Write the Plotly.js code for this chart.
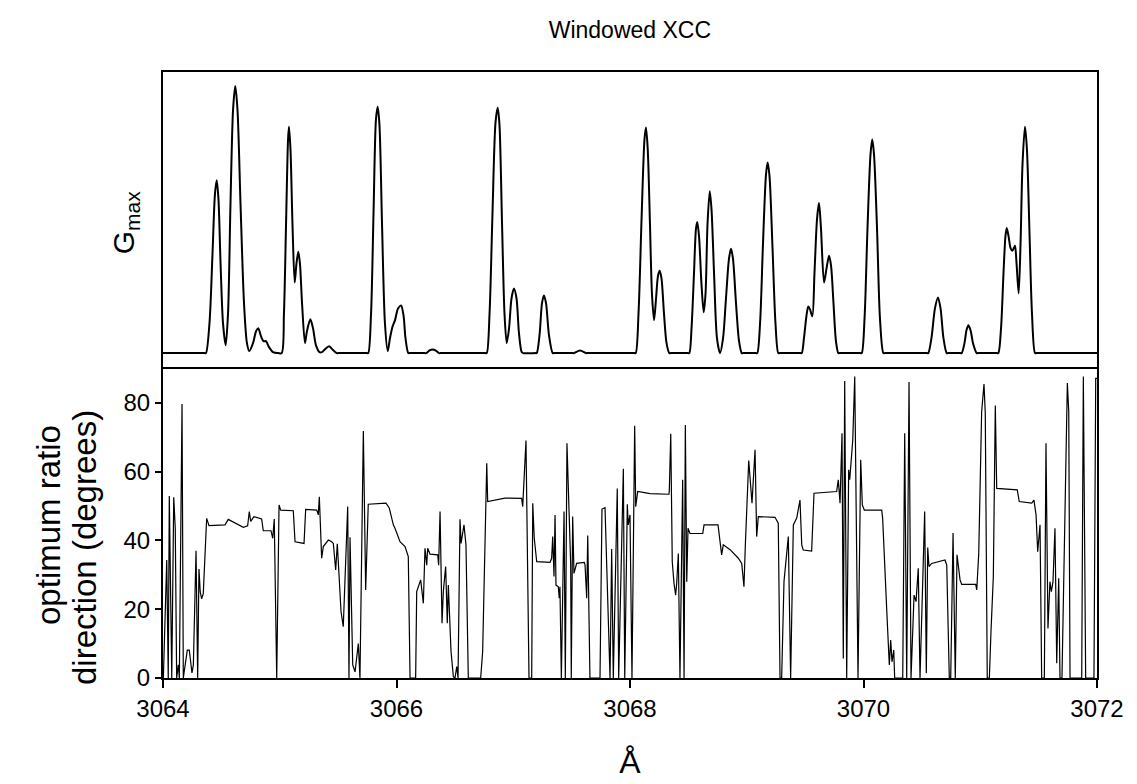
<!DOCTYPE html>
<html>
<head>
<meta charset="utf-8">
<script src="https://cdn.plot.ly/plotly-3.0.1.min.js"></script>
<style>html,body{margin:0;padding:0;background:#fff;}#chart{width:1137px;height:784px;}</style>
</head>
<body>
<div id="chart"></div>
<script>
// ---- data ----
const chartTitle = 'Windowed XCC';
const xTickVals = [3064, 3066, 3068, 3070, 3072];
const yTickVals = [0, 20, 40, 60, 80];

// Gmax (top panel), wavelength in Å and arbitrary amplitude
const gmaxX = [3064.000, 3064.356, 3064.368, 3064.398, 3064.424, 3064.445, 3064.460, 3064.475, 3064.493, 3064.514, 3064.537,
3064.557, 3064.578, 3064.600, 3064.619, 3064.638, 3064.664, 3064.694, 3064.719, 3064.739,
3064.771, 3064.797, 3064.816, 3064.839, 3064.861, 3064.882, 3064.908, 3064.942, 3064.988,
3065.017, 3065.036, 3065.054, 3065.071, 3065.079, 3065.092, 3065.109, 3065.128,
3065.143, 3065.159, 3065.173, 3065.191, 3065.216,
3065.233, 3065.262, 3065.285, 3065.310, 3065.340,
3065.362, 3065.388, 3065.422, 3065.448, 3065.488, 3065.500,
3065.746, 3065.758, 3065.782, 3065.803, 3065.824, 3065.839, 3065.854, 3065.876, 3065.901, 3065.925,
3065.944, 3065.967, 3065.987, 3066.013, 3066.039, 3066.060, 3066.077, 3066.101, 3066.113,
3066.241, 3066.253, 3066.287, 3066.310, 3066.330, 3066.364, 3066.376,
3066.761, 3066.773, 3066.797, 3066.822, 3066.848, 3066.867, 3066.882, 3066.904, 3066.925, 3066.944,
3066.964, 3066.985, 3067.006, 3067.028, 3067.049, 3067.072, 3067.084,
3067.189, 3067.201, 3067.225, 3067.246, 3067.263, 3067.281, 3067.306, 3067.338, 3067.350,
3067.508, 3067.520, 3067.572, 3067.623, 3067.635,
3068.037, 3068.049, 3068.073, 3068.099, 3068.124, 3068.137, 3068.152, 3068.171, 3068.188, 3068.206,
3068.223, 3068.240, 3068.254, 3068.270, 3068.291, 3068.313, 3068.337, 3068.349,
3068.496, 3068.508, 3068.527, 3068.548, 3068.565, 3068.576, 3068.591, 3068.612, 3068.631,
3068.647, 3068.664, 3068.683, 3068.698, 3068.720, 3068.745, 3068.771,
3068.797, 3068.822, 3068.848, 3068.865, 3068.882, 3068.908, 3068.934, 3068.957, 3068.969,
3069.078, 3069.090, 3069.114, 3069.139, 3069.165, 3069.179, 3069.195, 3069.221, 3069.246, 3069.270, 3069.282,
3069.459, 3069.471, 3069.490, 3069.512, 3069.527, 3069.542, 3069.562, 3069.580, 3069.602, 3069.619, 3069.636, 3069.662, 3069.683, 3069.705, 3069.722, 3069.743, 3069.764, 3069.784, 3069.796,
3069.973, 3069.985, 3070.009, 3070.034, 3070.060, 3070.075, 3070.090, 3070.116, 3070.141, 3070.170, 3070.182,
3070.543, 3070.555, 3070.582, 3070.612, 3070.638, 3070.660, 3070.685, 3070.713, 3070.725,
3070.829, 3070.841, 3070.865, 3070.882, 3070.898, 3070.917, 3070.938, 3070.970, 3070.982,
3071.143, 3071.155, 3071.178, 3071.199, 3071.216, 3071.227, 3071.242, 3071.259, 3071.275, 3071.289, 3071.298, 3071.311, 3071.329, 3071.345, 3071.362, 3071.383, 3071.400, 3071.422, 3071.443, 3071.469, 3071.481,
3072.000];
const gmaxY = [0, 0, 0, 30, 100, 160, 174, 155, 90, 30, 8,
40, 150, 245, 269, 245, 150, 50, 10, 2,
10, 22, 25, 17, 12, 12, 6, 1, 0,
0, 40, 130, 215, 228, 205, 130, 71,
90, 102, 90, 50, 10,
22, 34, 25, 8, 1,
1, 4, 7, 4, 0, 0,
0, 0, 40, 140, 235, 248, 230, 130, 30, 2,
15, 27, 33, 45, 48, 38, 15, 0, 0,
0, 0, 3, 3.5, 3, 0, 0,
0, 0, 40, 140, 232, 247, 230, 130, 40, 10,
25, 55, 65, 55, 20, 1, 0,
0, 0, 18, 50, 58, 50, 18, 0, 0,
0, 0, 2.5, 0, 0,
0, 0, 40, 135, 215, 227, 205, 130, 60, 33,
55, 78, 83, 75, 40, 10, 0, 0,
0, 0, 25, 80, 125, 132, 118, 70, 41,
60, 130, 163, 145, 80, 15, 0,
15, 55, 95, 105, 95, 50, 12, 0, 0,
0, 0, 30, 110, 180, 192, 178, 105, 30, 0, 0,
0, 0, 15, 38, 47, 44, 37, 80, 135, 151, 125, 71, 85, 98, 88, 50, 12, 0, 0,
0, 0, 35, 125, 200, 215, 200, 125, 35, 0, 0,
0, 0, 15, 45, 56, 45, 15, 0, 0,
0, 0, 10, 23, 28, 23, 10, 0, 0,
0, 0, 25, 80, 118, 126, 118, 106, 103, 106, 108, 90, 60, 110, 190, 228, 205, 120, 40, 0, 0,
0];

// optimum ratio direction (bottom panel), degrees
const dirX = [3064.003, 3064.032, 3064.045, 3064.054, 3064.075, 3064.092, 3064.105, 3064.117, 3064.131, 3064.140,
3064.163, 3064.174, 3064.208, 3064.225, 3064.236, 3064.248, 3064.260, 3064.283, 3064.297, 3064.308,
3064.319, 3064.331, 3064.345, 3064.374, 3064.394, 3064.531, 3064.559, 3064.688, 3064.725, 3064.739,
3064.751, 3064.779, 3064.845, 3064.859, 3064.925, 3064.940, 3064.953, 3064.974, 3064.994, 3065.008,
3065.116, 3065.131, 3065.208, 3065.222, 3065.317, 3065.330, 3065.339, 3065.359, 3065.373, 3065.416,
3065.445, 3065.459, 3065.479, 3065.493, 3065.525, 3065.544, 3065.582, 3065.593, 3065.602, 3065.625,
3065.645, 3065.673, 3065.687, 3065.716, 3065.736, 3065.758, 3065.910, 3065.938, 3065.973, 3065.987,
3066.030, 3066.073, 3066.101, 3066.116, 3066.164, 3066.173, 3066.207, 3066.230, 3066.244, 3066.259,
3066.267, 3066.287, 3066.353, 3066.361, 3066.373, 3066.390, 3066.401, 3066.421, 3066.435, 3066.444,
3066.467, 3066.487, 3066.501, 3066.516, 3066.527, 3066.544, 3066.553, 3066.578, 3066.595, 3066.615,
3066.721, 3066.738, 3066.773, 3066.781, 3066.929, 3067.072, 3067.081, 3067.092, 3067.109, 3067.135,
3067.158, 3067.167, 3067.180, 3067.201, 3067.315, 3067.329, 3067.338, 3067.349, 3067.358, 3067.366,
3067.386, 3067.394, 3067.400, 3067.412, 3067.435, 3067.446, 3067.460, 3067.492, 3067.497, 3067.509,
3067.520, 3067.543, 3067.609, 3067.615, 3067.629, 3067.638, 3067.657, 3067.743, 3067.760, 3067.786,
3067.829, 3067.843, 3067.857, 3067.891, 3067.903, 3067.943, 3067.955, 3067.977, 3067.985, 3068.000,
3068.017, 3068.040, 3068.049, 3068.066, 3068.171, 3068.334, 3068.337, 3068.349, 3068.362, 3068.377,
3068.391, 3068.400, 3068.414, 3068.428, 3068.451, 3068.463, 3068.474, 3068.486, 3068.497, 3068.514,
3068.623, 3068.634, 3068.754, 3068.785, 3068.799, 3068.857, 3068.928, 3068.957, 3068.976, 3068.988,
3069.017, 3069.045, 3069.071, 3069.085, 3069.099, 3069.242, 3069.270, 3069.285, 3069.299, 3069.319,
3069.356, 3069.376, 3069.399, 3069.428, 3069.456, 3069.471, 3069.484, 3069.556, 3069.576, 3069.770,
3069.784, 3069.799, 3069.816, 3069.827, 3069.839, 3069.856, 3069.873, 3069.882, 3069.908, 3069.925,
3069.953, 3069.976, 3069.990, 3070.007, 3070.156, 3070.164, 3070.193, 3070.199, 3070.221, 3070.233,
3070.244, 3070.259, 3070.267, 3070.336, 3070.353, 3070.370, 3070.390, 3070.407, 3070.433, 3070.450,
3070.469, 3070.484, 3070.524, 3070.538, 3070.550, 3070.561, 3070.584, 3070.698, 3070.713, 3070.735,
3070.747, 3070.767, 3070.786, 3070.801, 3070.827, 3070.841, 3070.961, 3070.970, 3070.987, 3071.012,
3071.032, 3071.043, 3071.060, 3071.078, 3071.092, 3071.112, 3071.129, 3071.141, 3071.317, 3071.334,
3071.441, 3071.460, 3071.478, 3071.492, 3071.512, 3071.526, 3071.549, 3071.563, 3071.580, 3071.597,
3071.609, 3071.623, 3071.640, 3071.655, 3071.672, 3071.683, 3071.700, 3071.746, 3071.758, 3071.769,
3071.869, 3071.883, 3071.903, 3071.974, 3071.989, 3072.000];
const dirY = [0, 34.3, 0, 52.9, 0, 52.5, 43.5, 0, 3.8, 0,
79.6, 0, 8.1, 8.1, 5, 1.5, 3.8, 37, 0, 31.7,
25, 23, 24.5, 46.4, 44.3, 44.5, 46.1, 43.8, 44.2, 48.4,
45.5, 46.9, 46.2, 42.8, 42.8, 40.6, 46.2, 0, 50.3, 48.8,
48.6, 39.6, 39.1, 49, 48.8, 47.4, 52.7, 34.8, 38.2, 40.1,
39.6, 39.1, 31.4, 39, 19.3, 14.9, 49.8, 0, 40.9, 3.8,
1.8, 10, 0, 71.8, 25.6, 50.5, 50.8, 49.4, 44.5, 43.5,
39.6, 38.2, 35.3, 0, 0, 25.1, 28.5, 21.7, 37.7, 32.8,
37.7, 36, 35.8, 32.8, 48.4, 15.9, 25.1, 32.4, 15.9, 27,
7.7, 0.4, 0, 3.3, 0, 46.1, 39.1, 44.5, 38.7, 0,
0, 7.7, 62.4, 51.3, 52.3, 52.2, 49.8, 57.1, 69, 0,
0, 50.8, 40.6, 33.8, 33.6, 34.8, 41.1, 29.5, 47.4, 27,
26.5, 23.2, 26.5, 0, 48.4, 0, 68.2, 33, 0, 46.9,
30.4, 33.3, 33.6, 32.8, 23.2, 41.4, 0, 0, 49.1, 49.5,
0, 37.5, 0, 55.1, 0, 60.8, 0, 50.5, 44.5, 47.4,
0, 73.3, 49.8, 54.2, 53.6, 53.4, 54.7, 71, 33.8, 27.5,
24.1, 27.5, 36.2, 0, 57.6, 0, 73.5, 28, 43.5, 42,
42, 44.5, 44.5, 35.8, 38.7, 37.3, 34.8, 33.3, 26.5, 38.7,
63.2, 50.8, 66.3, 41.1, 46.9, 46.7, 45, 0, 0, 28,
41.1, 0, 44.5, 46.5, 51.7, 38.7, 37.2, 36.9, 53.7, 54.2,
57.6, 50.8, 71.1, 5.7, 86.3, 0, 60.5, 57.6, 69.2, 87.6,
0, 63.4, 50.3, 48.8, 48.8, 46.4, 21.2, 19.8, 3.8, 11,
4.7, 8.1, 0, 0, 71.1, 0, 86, 0, 24.1, 22.2,
31.9, 0, 48.4, 1.4, 37.9, 32.4, 33.3, 34.3, 32.8, 0,
0, 42.1, 0, 35.8, 28.5, 27.2, 27.2, 25.6, 36.2, 77.4,
85.4, 77, 0, 0, 13.5, 29.5, 79.2, 55.1, 54.7, 51.3,
50.8, 51.7, 47.4, 36.7, 44.5, 0, 0, 68.2, 14.4, 28,
25.1, 28, 43.5, 4.3, 29, 0, 0, 85.7, 77.4, 0,
0, 87.6, 0, 0, 87.1, 87.1];

// ---- traces ----
const traces = [
  {x: gmaxX, y: gmaxY, xaxis: 'x2', yaxis: 'y2', type: 'scatter', mode: 'lines',
   line: {color: '#000', width: 2, shape: 'spline', smoothing: 0.8}, hoverinfo: 'x+y'},
  {x: dirX, y: dirY, xaxis: 'x', yaxis: 'y', type: 'scatter', mode: 'lines',
   line: {color: '#000', width: 1.2}, hoverinfo: 'x+y'}
];

const FONT = 'Liberation Sans, Arial, Helvetica, sans-serif';

const layout = {
  width: 1137, height: 784,
  paper_bgcolor: '#fff', plot_bgcolor: '#fff',
  margin: {l: 163, r: 40, t: 72, b: 106, pad: 0},
  showlegend: false,
  font: {family: FONT, color: '#000', size: 24},
  title: {text: chartTitle, font: {family: FONT, size: 23, color: '#000'},
          x: 0.554, xref: 'container', xanchor: 'center',
          y: 0.962, yref: 'container', yanchor: 'middle'},
  xaxis: {domain: [0, 1], range: [3064, 3072], anchor: 'y',
          tickvals: xTickVals, ticks: 'outside', ticklen: 8, tickwidth: 1.5, tickcolor: '#000',
          showline: true, linewidth: 2, linecolor: '#000', mirror: true,
          showgrid: false, zeroline: false,
          tickfont: {family: FONT, size: 24, color: '#000'},
          title: {text: 'Å', font: {family: FONT, size: 32, color: '#000'}, standoff: 30}},
  xaxis2: {domain: [0, 1], range: [3064, 3072], anchor: 'y2', matches: 'x',
          showticklabels: false, ticks: '',
          showline: true, linewidth: 2, linecolor: '#000', mirror: true,
          showgrid: false, zeroline: false},
  yaxis: {domain: [0, 0.5099], range: [0, 89.8], anchor: 'x',
          tickvals: yTickVals, ticks: 'outside', ticklen: 6, tickwidth: 1.5, tickcolor: '#000',
          showline: true, linewidth: 2, linecolor: '#000', mirror: true,
          showgrid: false, zeroline: false,
          tickfont: {family: FONT, size: 24, color: '#000'}},
  yaxis2: {domain: [0.5132, 1], range: [-14, 283], anchor: 'x2',
          showticklabels: false, ticks: '',
          showline: true, linewidth: 2, linecolor: '#000', mirror: true,
          showgrid: false, zeroline: false},
  annotations: [
    {text: 'G<sub>max</sub>', xref: 'paper', yref: 'paper', x: 0, y: 0.752,
     xshift: -38, xanchor: 'center', yanchor: 'middle', textangle: -90, showarrow: false,
     font: {family: FONT, size: 30, color: '#000'}},
    {text: 'optimum ratio', xref: 'paper', yref: 'paper', x: 0, y: 0.2525,
     xshift: -114, xanchor: 'center', yanchor: 'middle', textangle: -90, showarrow: false,
     font: {family: FONT, size: 33, color: '#000'}},
    {text: 'direction (degrees)', xref: 'paper', yref: 'paper', x: 0, y: 0.2145,
     xshift: -79, xanchor: 'center', yanchor: 'middle', textangle: -90, showarrow: false,
     font: {family: FONT, size: 33, color: '#000'}}
  ]
};

Plotly.newPlot('chart', traces, layout, {displayModeBar: false});
</script>
</body>
</html>
